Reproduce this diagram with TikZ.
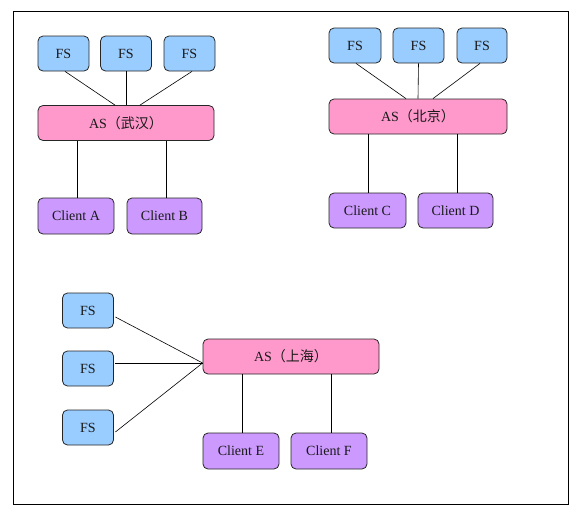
\documentclass[tikz,border=0pt]{standalone}
\usepackage{fontspec}
\setmainfont{Liberation Serif}
\newfontfamily\cjk{Noto Sans CJK SC}
\usetikzlibrary{calc}
\definecolor{fsblue}{HTML}{99CCFF}
\definecolor{aspink}{HTML}{FF99CC}
\definecolor{clpurple}{HTML}{CC99FF}
\definecolor{txt}{HTML}{1A1A1A}
\newcommand{\lft}[1]{#1\hspace{8pt}}
\tikzset{
  box/.style={draw=black!85, line width=0.8pt, rounded corners=5pt, inner sep=0pt,
    minimum height=35pt, text=txt, font=\fontsize{14}{16}\selectfont},
  fsbox/.style={box, fill=fsblue, minimum width=51pt},
  asbox/.style={box, fill=aspink, minimum width=176pt},
  clbox/.style={box, fill=clpurple, minimum width=76pt, minimum height=36pt},
  link/.style={draw=black, line width=0.6pt}
}
\begin{document}
\begin{tikzpicture}[x=1pt,y=-1pt]
\useasboundingbox (0,0) rectangle (584,517);
\draw[line width=0.8pt] (13,11) rectangle (568,504);
% group Wuhan
\node[fsbox] (fa1) at (63.5,53.5) {\lft{FS}};
\node[fsbox] (fa2) at (126,53.5) {\lft{FS}};
\node[fsbox] (fa3) at (189.5,53.5) {\lft{FS}};
\node[asbox] (asw) at (126,123) {\lft{AS{\cjk（武汉）}}};
\node[clbox] (ca) at (76,216) {Client A};
\node[clbox, minimum width=75pt] (cb) at (164.5,216) {Client B};
\draw[link] ($(fa1.south)+(1.5,0)$) -- ($(asw.north)+(-11,0)$);
\draw[link] (fa2.south) -- (asw.north);
\draw[link] ($(fa3.south)+(2.5,0)$) -- ($(asw.north)+(14,0)$);
\draw[link] ($(ca.north)+(1,0)$) -- ($(ca.north |- asw.south)+(1,0)$);
\draw[link] ($(cb.north)+(1.5,0)$) -- ($(cb.north |- asw.south)+(1.5,0)$);
% group Beijing
\node[fsbox, minimum width=52pt] (fb1) at (355,45.5) {\lft{FS}};
\node[fsbox] (fb2) at (418.5,45.5) {\lft{FS}};
\node[fsbox, minimum width=50pt] (fb3) at (482,45.5) {\lft{FS}};
\node[asbox, minimum width=178pt] (asb) at (418,116.5) {\lft{AS{\cjk（北京）}}};
\node[clbox, minimum width=77pt, minimum height=35pt] (cc) at (367.5,210.5) {Client C};
\node[clbox, minimum width=75pt, minimum height=35pt] (cd) at (455.5,210.5) {Client D};
\draw[link] ($(fb1.south)+(1,0)$) -- ($(asb.north)+(-12,0)$);
\draw[link] (fb2.south) -- (asb.north);
\draw[link] ($(fb3.south)+(-2,0)$) -- ($(asb.north)+(15,0)$);
\draw[link] ($(cc.north)+(0.5,0)$) -- ($(cc.north |- asb.south)+(0.5,0)$);
\draw[link] ($(cd.north)+(1.5,0)$) -- ($(cd.north |- asb.south)+(1.5,0)$);
% group Shanghai
\node[fsbox] (fc1) at (88,310.5) {\lft{FS}};
\node[fsbox] (fc2) at (88,368.5) {\lft{FS}};
\node[fsbox] (fc3) at (88,427.5) {\lft{FS}};
\node[asbox] (ass) at (291,356.5) {\lft{AS{\cjk（上海）}}};
\node[clbox] (ce) at (241,451) {Client E};
\node[clbox] (cf) at (329,451) {Client F};
\coordinate (conv) at ($(ass.west)+(0,6.5)$);
\draw[link] ($(fc1.east)+(1.5,6.5)$) -- (conv);
\draw[link] ($(fc2.east)+(1.5,-5.5)$) -- (conv);
\draw[link] ($(fc3.east)+(1.5,4.5)$) -- (conv);
\draw[link] ($(ce.north)+(1,0)$) -- ($(ce.north |- ass.south)+(1,0)$);
\draw[link] ($(cf.north)+(2,0)$) -- ($(cf.north |- ass.south)+(2,0)$);
\end{tikzpicture}
\end{document}
